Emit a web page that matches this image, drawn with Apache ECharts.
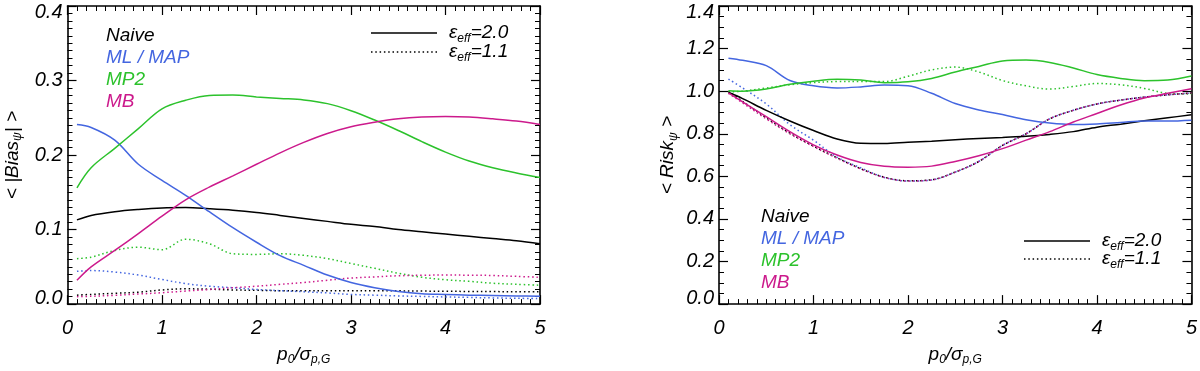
<!DOCTYPE html>
<html>
<head>
<meta charset="utf-8">
<script src="https://cdn.jsdelivr.net/npm/echarts@6/dist/echarts.min.js"></script>
<style>
  html, body { margin: 0; padding: 0; background: #fff; }
  #container { width: 1200px; height: 371px; }
</style>
</head>
<body>
<div id="container"></div>
<script>
// x grid shared by every curve
var xs = [0.1, 0.25, 0.5, 0.75, 1, 1.25, 1.5, 1.75, 2, 2.25, 2.5, 2.75, 3, 3.25, 3.5, 3.75, 4, 4.25, 4.5, 4.75, 5];

// left panel: <|Bias|>, eps_eff = 2.0 (solid)
var biasNaive20 = [0.113, 0.119, 0.124, 0.127, 0.129, 0.1295, 0.128, 0.126, 0.123, 0.119, 0.115, 0.111, 0.107, 0.104, 0.1, 0.097, 0.094, 0.091, 0.088, 0.085, 0.081];
var biasML20 = [0.241, 0.237, 0.22, 0.1876, 0.166, 0.146, 0.124, 0.1025, 0.083, 0.065, 0.052, 0.039, 0.029, 0.022, 0.017, 0.014, 0.013, 0.012, 0.0115, 0.011, 0.0105];
var biasMP220 = [0.156, 0.183, 0.209, 0.2355, 0.262, 0.2735, 0.28, 0.2805, 0.278, 0.276, 0.274, 0.269, 0.2595, 0.247, 0.233, 0.218, 0.204, 0.192, 0.183, 0.176, 0.17];
var biasMB20 = [0.032, 0.05, 0.072, 0.0947, 0.118, 0.14, 0.157, 0.172, 0.1876, 0.203, 0.217, 0.229, 0.238, 0.244, 0.2486, 0.251, 0.2517, 0.251, 0.2486, 0.2456, 0.241];
// left panel: eps_eff = 1.1 (dotted)
var biasNaive11 = [0.012, 0.013, 0.0145, 0.016, 0.019, 0.0205, 0.02, 0.019, 0.0185, 0.018, 0.018, 0.018, 0.018, 0.018, 0.0178, 0.0175, 0.0172, 0.017, 0.0168, 0.0166, 0.0165];
var biasML11 = [0.044, 0.045, 0.043, 0.039, 0.033, 0.0275, 0.024, 0.022, 0.0196, 0.018, 0.0166, 0.015, 0.013, 0.012, 0.011, 0.0103, 0.0096, 0.009, 0.0083, 0.0078, 0.0074];
var biasMP211 = [0.061, 0.063, 0.072, 0.0763, 0.073, 0.087, 0.081, 0.0676, 0.0667, 0.0676, 0.0654, 0.061, 0.0545, 0.048, 0.0414, 0.036, 0.0327, 0.0305, 0.028, 0.0266, 0.0253];
var biasMB11 = [0.01, 0.0105, 0.0118, 0.0135, 0.0153, 0.0175, 0.0196, 0.022, 0.024, 0.0265, 0.029, 0.032, 0.035, 0.0365, 0.038, 0.0387, 0.039, 0.0388, 0.0384, 0.0372, 0.036];

// right panel: <Risk>, eps_eff = 2.0 (solid)
var riskNaive20 = [0.995, 0.965, 0.91, 0.86, 0.815, 0.775, 0.755, 0.754, 0.76, 0.765, 0.772, 0.778, 0.783, 0.788, 0.797, 0.81, 0.831, 0.845, 0.861, 0.875, 0.889];
var riskML20 = [1.155, 1.145, 1.12, 1.05, 1.025, 1.015, 1.02, 1.029, 1.026, 0.99, 0.942, 0.912, 0.89, 0.866, 0.85, 0.843, 0.846, 0.853, 0.86, 0.86, 0.864];
var riskMP220 = [1.002, 1.0, 1.01, 1.032, 1.047, 1.056, 1.052, 1.04, 1.044, 1.06, 1.09, 1.116, 1.142, 1.146, 1.135, 1.109, 1.078, 1.06, 1.049, 1.052, 1.071];
var riskMB20 = [0.992, 0.95, 0.88, 0.81, 0.748, 0.7, 0.665, 0.647, 0.643, 0.648, 0.67, 0.697, 0.73, 0.77, 0.81, 0.855, 0.895, 0.935, 0.968, 0.99, 1.011];
// right panel: eps_eff = 1.1 (dotted)
var riskNaive11 = [1.0, 0.952, 0.875, 0.803, 0.742, 0.687, 0.636, 0.596, 0.579, 0.584, 0.62, 0.67, 0.745, 0.8, 0.87, 0.91, 0.94, 0.958, 0.972, 0.983, 0.991];
var riskML11 = [1.057, 1.015, 0.94, 0.843, 0.77, 0.69, 0.64, 0.595, 0.578, 0.583, 0.62, 0.67, 0.745, 0.8, 0.87, 0.91, 0.94, 0.958, 0.972, 0.983, 0.991];
var riskMP211 = [0.996, 1.0, 1.015, 1.03, 1.04, 1.045, 1.045, 1.045, 1.07, 1.1, 1.113, 1.09, 1.05, 1.025, 1.01, 1.022, 1.036, 1.03, 1.013, 0.99, 0.987];
var riskMB11 = [0.99, 0.945, 0.87, 0.8, 0.74, 0.685, 0.635, 0.595, 0.578, 0.583, 0.62, 0.67, 0.745, 0.8, 0.87, 0.91, 0.94, 0.958, 0.972, 0.983, 0.991];

var names = ['Naive', 'ML / MAP', 'MP2', 'MB'];
var colors = ['#000000', '#4466e0', '#2cc22c', '#cc1a8c'];

var FONT = 'Liberation Sans, Arial, sans-serif';
var dotted = [1.5, 2.8];

function pairs(ys) {
	var arr = [];
	for (var i = 0; i < xs.length; i++) {
		arr.push([xs[i], ys[i]]);
	}
	return arr;
}

function makeSeries(list, xi, yi, dash) {
	var out = [];
	for (var i = 0; i < list.length; i++) {
		out.push({
			name: names[i],
			type: 'line',
			xAxisIndex: xi,
			yAxisIndex: yi,
			data: pairs(list[i]),
			smooth: 0.35,
			showSymbol: false,
			symbol: 'none',
			animation: false,
			lineStyle: { color: colors[i], width: 1.5, type: dash ? dotted : 'solid' },
			z: dash ? 2 : 3
		});
	}
	return out;
}

var richTitle = {
	a: { fontFamily: FONT, fontStyle: 'italic', fontSize: 19, lineHeight: 22, color: '#000' },
	s: { fontFamily: FONT, fontStyle: 'italic', fontSize: 12, lineHeight: 12, padding: [11, 0, 0, 0], color: '#000' }
};

function xAx(grid, pos, title) {
	return {
		type: 'value', gridIndex: grid, position: pos,
		min: 0, max: 5, interval: 1,
		axisLine: { show: true, onZero: false, lineStyle: { color: '#000', width: 1.6 } },
		axisTick: { show: true, inside: true, length: 9, lineStyle: { color: '#000', width: 1.2 } },
		minorTick: { show: true, splitNumber: 10, length: 5, lineStyle: { color: '#000', width: 1 } },
		splitLine: { show: false },
		minorSplitLine: { show: false },
		axisLabel: {
			show: pos === 'bottom', margin: 14,
			fontFamily: FONT, fontStyle: 'italic', fontSize: 20, color: '#000'
		},
		name: pos === 'bottom' ? title : '',
		nameLocation: 'middle',
		nameGap: 33,
		nameTextStyle: { color: '#000', rich: richTitle }
	};
}

function yAx(grid, pos, max, interval, minor, title, gap) {
	return {
		type: 'value', gridIndex: grid, position: pos,
		min: 0, max: max, interval: interval,
		axisLine: { show: true, onZero: false, lineStyle: { color: '#000', width: 1.6 } },
		axisTick: { show: true, inside: true, length: 9, lineStyle: { color: '#000', width: 1.2 } },
		minorTick: { show: true, splitNumber: minor, length: 5, lineStyle: { color: '#000', width: 1 } },
		splitLine: { show: false },
		minorSplitLine: { show: false },
		axisLabel: {
			show: pos === 'left', margin: 5,
			fontFamily: FONT, fontStyle: 'italic', fontSize: 20, lineHeight: 12, color: '#000',
			verticalAlignMaxLabel: 'top',
			verticalAlignMinLabel: 'bottom',
			formatter: function (v) { return v.toFixed(1); }
		},
		name: pos === 'left' ? title : '',
		nameLocation: 'middle',
		nameGap: gap,
		nameTextStyle: { color: '#000', rich: richTitle }
	};
}

function legendTexts(x, y0, step) {
	var out = [];
	for (var i = 0; i < names.length; i++) {
		out.push({
			type: 'text', x: x, y: y0 + i * step, silent: true,
			style: {
				text: names[i], fill: colors[i],
				font: 'italic 19px ' + FONT,
				align: 'left', verticalAlign: 'middle'
			}
		});
	}
	return out;
}

function epsLegend(x1, x2, y, label, dash) {
	return [{
		type: 'line', silent: true,
		shape: { x1: x1, y1: y, x2: x2, y2: y },
		style: { stroke: '#000', lineWidth: 1.5, lineDash: dash ? dotted : null }
	}, {
		type: 'text', x: x2 + 12, y: y, silent: true,
		style: {
			text: '{e|ε}{s|eff}{e|=' + label + '}',
			align: 'left', verticalAlign: 'middle',
			rich: {
				e: { fontFamily: FONT, fontStyle: 'italic', fontSize: 19, lineHeight: 22, fill: '#000' },
				s: { fontFamily: FONT, fontStyle: 'italic', fontSize: 12, lineHeight: 12, padding: [11, 0, 0, 0], fill: '#000' }
			}
		}
	}];
}

var xTitle = '{a|p}{s|0}{a|/σ}{s|p,G}';

var series = []
	.concat(makeSeries([biasNaive11, biasML11, biasMP211, biasMB11], 0, 0, true))
	.concat(makeSeries([biasNaive20, biasML20, biasMP220, biasMB20], 0, 0, false))
	.concat(makeSeries([riskNaive11, riskML11, riskMP211, riskMB11], 2, 2, true))
	.concat(makeSeries([riskNaive20, riskML20, riskMP220, riskMB20], 2, 2, false));

var graphics = []
	.concat(legendTexts(106, 36, 22))
	.concat(epsLegend(371, 437, 33, '2.0', false))
	.concat(epsLegend(371, 437, 52, '1.1', true))
	.concat(legendTexts(761, 217, 22))
	.concat(epsLegend(1024, 1090, 241, '2.0', false))
	.concat(epsLegend(1024, 1090, 259, '1.1', true));

var dom = document.getElementById('container');
var myChart = echarts.init(dom, null, { renderer: 'canvas' });
var option = {
	animation: false,
	backgroundColor: '#fff',
	grid: [
		{ left: 66, top: 6, width: 474, height: 305 },
		{ left: 719, top: 6, width: 473, height: 305 }
	],
	xAxis: [
		xAx(0, 'bottom', xTitle), xAx(0, 'top', ''),
		xAx(1, 'bottom', xTitle), xAx(1, 'top', '')
	],
	yAxis: [
		yAx(0, 'left', 0.4, 0.1, 10, '{a|< |Bias}{s|ψ}{a|| >}', 44),
		yAx(0, 'right', 0.4, 0.1, 10, '', 0),
		yAx(1, 'left', 1.4, 0.2, 4, '{a|< Risk}{s|ψ}{a| >}', 40),
		yAx(1, 'right', 1.4, 0.2, 4, '', 0)
	],
	series: series,
	graphic: graphics
};
myChart.setOption(option, true);
</script>
</body>
</html>
